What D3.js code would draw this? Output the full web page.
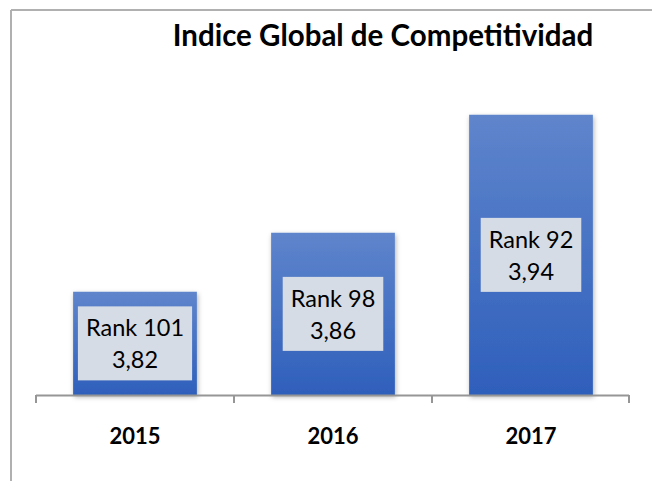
<!DOCTYPE html>
<html>
<head>
<meta charset="utf-8">
<script src="https://cdn.jsdelivr.net/npm/d3@7"></script>
<style>
    body { margin: 0; background: #fff; }
    svg { display: block; }
</style>
</head>
<body>
<svg width="652" height="481"></svg>
<script>
const years = ["2015", "2016", "2017"];
const scores = [3.82, 3.86, 3.94];
const ranks = [101, 98, 92];
const title = "Indice Global de Competitividad";

const svg = d3.select("svg");
const font = "Lato, 'Open Sans', sans-serif";

// frame lines (top and left only, chart is cut on the other sides)
svg.append("line")
    .attr("x1", 11).attr("y1", 10).attr("x2", 652).attr("y2", 10)
    .attr("stroke", "#b0b0b0").attr("stroke-width", 2);
svg.append("line")
    .attr("x1", 11).attr("y1", 10).attr("x2", 11).attr("y2", 481)
    .attr("stroke", "#b0b0b0").attr("stroke-width", 2);

const x = d3.scaleBand()
    .domain(years)
    .range([36, 630])
    .paddingInner(0.375)
    .paddingOuter(0.1875);

const y = d3.scaleLinear()
    .domain([3.75, 3.95])
    .range([395, 100]);

// gradient for the bars
const defs = svg.append("defs");
const grad = defs.append("linearGradient")
    .attr("id", "barGrad")
    .attr("x1", 0).attr("y1", 0).attr("x2", 0).attr("y2", 1);
grad.append("stop").attr("offset", "0%").attr("stop-color", "#5f85cc");
grad.append("stop").attr("offset", "100%").attr("stop-color", "#2e5fbb");

const shadow = defs.append("filter").attr("id", "shadow")
    .attr("x", "-20%").attr("y", "-10%").attr("width", "140%").attr("height", "120%");
shadow.append("feDropShadow")
    .attr("dx", 1).attr("dy", 2).attr("stdDeviation", 2.5)
    .attr("flood-color", "#000").attr("flood-opacity", 0.3);

// title
svg.append("text")
    .attr("x", 383)
    .attr("y", 46)
    .attr("text-anchor", "middle")
    .style("font-family", font)
    .style("font-weight", "bold")
    .style("font-size", "29.5px")
    .attr("fill", "#000")
    .text(title);

//bars
svg.append("g")
    .selectAll("rect")
    .data(scores)
    .enter().append("rect")
    .attr("x", (d, i) => x(years[i]))
    .attr("y", d => y(d))
    .attr("width", x.bandwidth())
    .attr("height", d => y(3.75) - y(d))
    .attr("fill", "url(#barGrad)")
    .attr("filter", "url(#shadow)");

// x axis line and category separators
svg.append("line")
    .attr("x1", 36).attr("x2", 629).attr("y1", 395.5).attr("y2", 395.5)
    .attr("stroke", "#969696").attr("stroke-width", 2);
const edges = [36].concat(years.map(yr => x(yr) + x.bandwidth() + x.step() * x.paddingInner() / 2));
svg.append("g")
    .selectAll("line")
    .data(edges)
    .enter().append("line")
    .attr("x1", d => Math.min(d, 629)).attr("x2", d => Math.min(d, 629))
    .attr("y1", 395).attr("y2", 403)
    .attr("stroke", "#969696").attr("stroke-width", 2);

// year labels
svg.append("g")
    .selectAll("text")
    .data(years)
    .enter().append("text")
    .attr("x", d => x(d) + x.bandwidth() / 2)
    .attr("y", 444)
    .attr("text-anchor", "middle")
    .style("font-family", font)
    .style("font-weight", "bold")
    .style("font-size", "22px")
    .text(d => d);

// data labels inside the bars
const labels = svg.append("g")
    .selectAll("g")
    .data(scores)
    .enter().append("g")
    .attr("transform", (d, i) => "translate(" + (x(years[i]) + x.bandwidth() / 2) + "," + ((y(d) + y(3.75)) / 2) + ")");

labels.each(function (d, i) {
    const gl = d3.select(this);
    const box = gl.append("rect").attr("fill", "#d6dce5");
    const t1 = gl.append("text")
        .attr("y", -7)
        .attr("text-anchor", "middle")
        .style("font-family", font)
        .style("font-size", "23.5px")
        .attr("fill", "#000")
        .text("Rank " + ranks[i]);
    gl.append("text")
        .attr("y", 25)
        .attr("text-anchor", "middle")
        .style("font-family", font)
        .style("font-size", "23.5px")
        .attr("fill", "#000")
        .text(d.toFixed(2).replace(".", ","));
    const w = t1.node().getComputedTextLength() + 16;
    box.attr("x", -w / 2).attr("y", -37).attr("width", w).attr("height", 74);
});
</script>
</body>
</html>
